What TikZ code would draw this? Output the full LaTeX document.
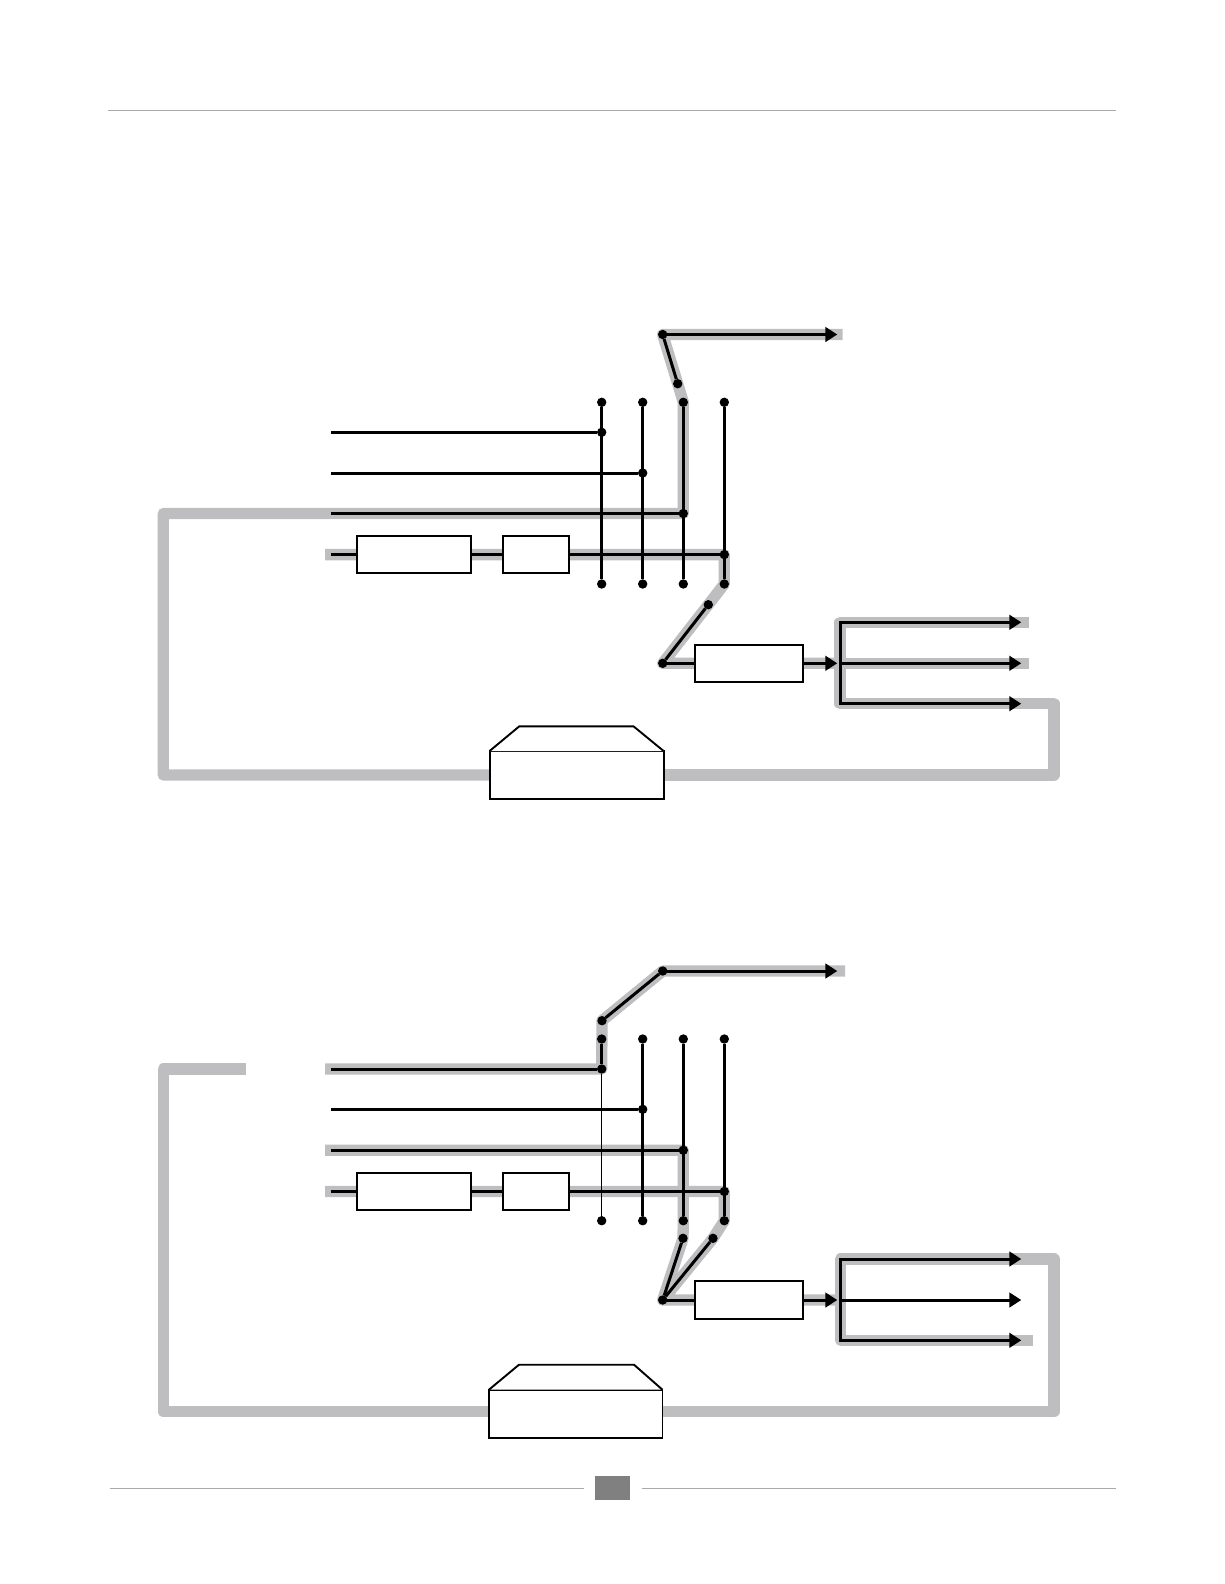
\documentclass[tikz,border=0pt]{standalone}
\usepackage{xcolor}
\usepackage{tikz}
\usetikzlibrary{arrows.meta,backgrounds}
\definecolor{feedGrey}{HTML}{BEBEC0}
\definecolor{ruleGrey}{HTML}{A9A9A9}
\definecolor{tabGrey}{HTML}{808080}

\begin{document}
\begin{tikzpicture}[
  x=1pt,y=-1pt,
  feed/.style={draw,feedGrey,line width=11.3pt,line join=round},
  sig/.style={draw,black,line width=3pt},
  sigmid/.style={draw,black,line width=2.3pt},
  sigthin/.style={draw,black,line width=1.5pt},
  sigout/.style={draw,black,line width=3pt,-{Triangle[length=12pt,width=14.5pt]}},
  busdot/.style={circle,fill=black,inner sep=0pt,outer sep=0pt,minimum size=9.4pt},
  blockbox/.style={draw,fill=white,line width=1.9pt,inner sep=0pt,outer sep=0pt},
  ruleline/.style={draw,ruleGrey,line width=1.6pt},
]
\useasboundingbox (0,0) rectangle (1224,1584);

% page furniture
\coordinate (ruleTopL) at (108,111);
\coordinate (ruleTopR) at (1116,111);
\coordinate (ruleBotA) at (110,1488.5);
\coordinate (ruleBotB) at (584,1488.5);
\coordinate (ruleBotC) at (642,1488.5);
\coordinate (ruleBotD) at (1116,1488.5);
\draw[ruleline,line width=1pt] (ruleTopL) -- (ruleTopR);
\draw[ruleline] (ruleBotA) -- (ruleBotB);
\draw[ruleline] (ruleBotC) -- (ruleBotD);
\node[fill=tabGrey,inner sep=0pt,minimum width=35pt,minimum height=24pt] (pageTab) at (612.5,1488) {};

% upper diagram
\node[busdot] (uOut) at (662.7,334.5) {};
\node[busdot] (uSw) at (677.7,383.7) {};
\node[busdot] (uA1) at (601.7,402.3) {};
\node[busdot] (uB1) at (642.7,402.3) {};
\node[busdot] (uC1) at (683.3,402.3) {};
\node[busdot] (uD1) at (724.3,402.3) {};
\node[busdot] (uA2) at (601.7,432.3) {};
\node[busdot] (uB2) at (642.7,473) {};
\node[busdot] (uC2) at (683.3,513.5) {};
\node[busdot] (uD2) at (724.3,554.6) {};
\node[busdot] (uA3) at (601.7,584) {};
\node[busdot] (uB3) at (642.7,584) {};
\node[busdot] (uC3) at (683.3,584) {};
\node[busdot] (uD3) at (724.3,584) {};
\node[busdot] (uMx) at (708.3,604.7) {};
\node[busdot] (uIn) at (662.7,663.3) {};
\node[blockbox,minimum width=114pt,minimum height=37pt] (uDelay) at (414,554.6) {};
\node[blockbox,minimum width=66pt,minimum height=37pt] (uGain) at (535.6,554.6) {};
\node[blockbox,minimum width=108.5pt,minimum height=37.5pt] (uAmp) at (749,663.3) {};
\node[blockbox,minimum width=174pt,minimum height=48pt] (uStore) at (576.6,775) {};
\draw[blockbox,line join=round] (uStore.north west) -- (519.3,726.3) -- (633.5,726.3) -- (uStore.north east);
\coordinate (uL1) at (331,432.3);
\coordinate (uL2) at (331,473);
\coordinate (uL3) at (331,513.5);
\coordinate (uL4) at (331,554.6);
\coordinate (uG4) at (325,554.6);
\coordinate (uFork) at (840,663.3);
\coordinate (uForkT) at (840,622.3);
\coordinate (uForkB) at (840,703.7);
\coordinate (uTip0) at (837.3,334.5);
\coordinate (uTip1) at (837.3,663.3);
\coordinate (uTipA) at (1021.3,622.3);
\coordinate (uTipB) at (1021.3,663.3);
\coordinate (uTipC) at (1021.3,703.7);
\coordinate (uEnd0) at (842.7,334.5);
\coordinate (uEndA) at (1029,622.3);
\coordinate (uEndB) at (1028.5,663.3);

\begin{scope}[on background layer]
  \draw[feed] (uStore.west) -- (163.3,775) -- (163.3,513.5) -- (uC2.center) -- (uC1.center) -- (uSw.center) -- (uOut.center) -- (uEnd0);
  \draw[feed] (uG4) -- (uD2.center) -- (uD3.center) -- (uMx.center) -- (uIn.center) -- (uFork);
  \draw[feed] (uEndA) -- (uForkT) -- (uForkB) -- (1054,703.7) -- (1054,775) -- (uStore.east);
  \draw[feed] (uFork) -- (uEndB);
\end{scope}

\draw[sig] (uOut) -- (uSw);
\draw[sig] (uA1) -- (uA3);
\draw[sig] (uB1) -- (uB3);
\draw[sig] (uC1) -- (uC3);
\draw[sig] (uD1) -- (uD3);
\draw[sig] (uL1) -- (uA2);
\draw[sig] (uL2) -- (uB2);
\draw[sigmid] (uL3) -- (uC2);
\draw[sigmid] (uL4) -- (uDelay.west);
\draw[sigmid] (uDelay.east) -- (uGain.west);
\draw[sigmid] (uGain.east) -- (uD2);
\draw[sig] (uMx) -- (uIn);
\draw[sig] (uIn) -- (uAmp.west);
\draw[sigout] (uOut) -- (uTip0);
\draw[sigout] (uAmp.east) -- (uTip1);
\draw[sigout] (uForkB) -- (uForkT) -- (uTipA);
\draw[sigout] (uFork) -- (uTipB);
\draw[sigout] (uForkT) -- (uForkB) -- (uTipC);

% lower diagram
\node[busdot] (lOut) at (662.7,971) {};
\node[busdot] (lSw) at (602,1020.7) {};
\node[busdot] (lA1) at (601.7,1039) {};
\node[busdot] (lB1) at (642.7,1039) {};
\node[busdot] (lC1) at (683.3,1039) {};
\node[busdot] (lD1) at (724.3,1039) {};
\node[busdot] (lA2) at (601.7,1069) {};
\node[busdot] (lB2) at (642.7,1109.3) {};
\node[busdot] (lC2) at (683.3,1150.2) {};
\node[busdot] (lD2) at (724.3,1191.5) {};
\node[busdot] (lA3) at (601.7,1220.7) {};
\node[busdot] (lB3) at (642.7,1220.7) {};
\node[busdot] (lC3) at (683.3,1220.7) {};
\node[busdot] (lD3) at (724.3,1220.7) {};
\node[busdot] (lMxA) at (683,1238.3) {};
\node[busdot] (lMxB) at (713,1238.3) {};
\node[busdot] (lIn) at (662.7,1300) {};
\node[blockbox,minimum width=114pt,minimum height=37pt] (lDelay) at (414,1191.5) {};
\node[blockbox,minimum width=66pt,minimum height=37pt] (lGain) at (535.6,1191.5) {};
\node[blockbox,minimum width=108.5pt,minimum height=37.5pt] (lAmp) at (749,1300) {};
\node[blockbox,minimum width=173.5pt,minimum height=48pt] (lStore) at (575.7,1413.7) {};
\draw[blockbox,line join=round] (lStore.north west) -- (519,1364.7) -- (634,1364.7) -- (lStore.north east);
\coordinate (lL1) at (331,1069);
\coordinate (lL2) at (331,1109.3);
\coordinate (lL3) at (331,1150.2);
\coordinate (lL4) at (331,1191.5);
\coordinate (lG1) at (325,1069);
\coordinate (lG3) at (325,1150.2);
\coordinate (lG4) at (325,1191.5);
\coordinate (lCut) at (246,1069);
\coordinate (lFork) at (840.7,1300);
\coordinate (lForkT) at (840.7,1259);
\coordinate (lForkB) at (840.7,1340.3);
\coordinate (lTip0) at (837.3,971);
\coordinate (lTip1) at (837.3,1300);
\coordinate (lTipA) at (1021.3,1259);
\coordinate (lTipB) at (1021.3,1300);
\coordinate (lTipC) at (1021.3,1340.3);
\coordinate (lEnd0) at (845,971);
\coordinate (lEndC) at (1033.3,1340.3);

\begin{scope}[on background layer]
  \draw[feed] (lCut) -- (163.3,1069) -- (163.3,1411.7) -- (lStore.west |- 0,1411.7);
  \draw[feed] (lG1) -- (lA2.center) -- (lSw.center) -- (lOut.center) -- (lEnd0);
  \draw[feed] (lG3) -- (lC2.center) -- (lC3.center) -- (lMxA.center) -- (lIn.center);
  \draw[feed] (lG4) -- (lD2.center) -- (lD3.center) -- (lMxB.center) -- (lIn.center) -- (lFork);
  \draw[feed] (lEndC) -- (lForkB) -- (lForkT) -- (1054,1259) -- (1054,1411.7) -- (lStore.east |- 0,1411.7);
\end{scope}

\draw[sig] (lOut) -- (lSw);
\draw[sig] (lA1) -- (lA2);
\draw[sigthin] (lA2) -- (lA3);
\draw[sig] (lB1) -- (lB3);
\draw[sig] (lC1) -- (lC3);
\draw[sig] (lD1) -- (lD3);
\draw[sig] (lL1) -- (lA2);
\draw[sig] (lL2) -- (lB2);
\draw[sig] (lL3) -- (lC2);
\draw[sig] (lL4) -- (lDelay.west);
\draw[sig] (lDelay.east) -- (lGain.west);
\draw[sig] (lGain.east) -- (lD2);
\draw[sig] (lMxA) -- (lIn);
\draw[sig] (lMxB) -- (lIn);
\draw[sig] (lIn) -- (lAmp.west);
\draw[sigout] (lOut) -- (lTip0);
\draw[sigout] (lAmp.east) -- (lTip1);
\draw[sigout] (lForkB) -- (lForkT) -- (lTipA);
\draw[sigout] (lFork) -- (lTipB);
\draw[sigout] (lForkT) -- (lForkB) -- (lTipC);
\end{tikzpicture}
\end{document}
